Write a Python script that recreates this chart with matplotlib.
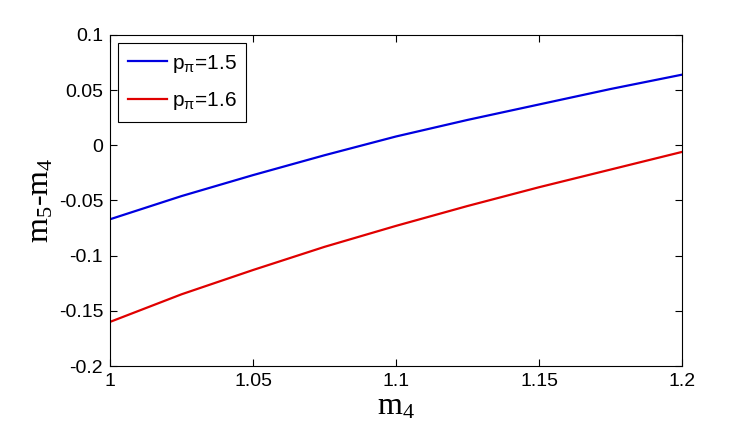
import matplotlib
matplotlib.use("Agg")
import matplotlib.pyplot as plt
import numpy as np

plt.rcParams['mathtext.default'] = 'regular'

m4 = [1.0, 1.025, 1.05, 1.075, 1.1, 1.125, 1.15, 1.175, 1.2]
diff_p15 = [-0.067, -0.046, -0.027, -0.009, 0.008, 0.023, 0.037, 0.051, 0.064]
diff_p16 = [-0.160, -0.135, -0.113, -0.092, -0.073, -0.055, -0.038, -0.022, -0.006]
labels = [r'p$_\pi$=1.5', r'p$_\pi$=1.6']
xticks = [1, 1.05, 1.1, 1.15, 1.2]
xticklabels = ['1', '1.05', '1.1', '1.15', '1.2']
yticks = [-0.2, -0.15, -0.1, -0.05, 0, 0.05, 0.1]
yticklabels = ['-0.2', '-0.15', '-0.1', '-0.05', '0', '0.05', '0.1']

fig = plt.figure(figsize=(7.54, 4.48), dpi=100)
ax = fig.add_axes([0.146, 0.183, 0.7585, 0.739])

ax.plot(m4, diff_p15, color='#0000e0', lw=1.6, label=labels[0])
ax.plot(m4, diff_p16, color='#e00000', lw=1.6, label=labels[1])

ax.set_xlim(1, 1.2)
ax.set_ylim(-0.2, 0.1)
ax.set_xticks(xticks)
ax.set_xticklabels(xticklabels, family='Liberation Sans', fontsize=14)
ax.set_yticks(yticks)
ax.set_yticklabels(yticklabels, family='Liberation Sans', fontsize=14)
ax.tick_params(direction='in', top=True, right=True, length=5, width=0.8, pad=5)
for s in ax.spines.values():
    s.set_linewidth(0.8)

ax.set_xlabel('m$_4$', family='Liberation Serif', fontsize=23, labelpad=2)
ax.set_ylabel('m$_5$-m$_4$', family='Liberation Serif', fontsize=23, labelpad=2)

leg = ax.legend(loc='upper left', prop={'family': 'Liberation Sans', 'size': 15},
                frameon=True, fancybox=False, framealpha=1, edgecolor='black',
                handlelength=1.9, handletextpad=0.2, borderaxespad=0.4,
                labelspacing=0.75, borderpad=0.45)
leg.get_frame().set_linewidth(0.8)

fig.savefig('out.png', dpi=100)
